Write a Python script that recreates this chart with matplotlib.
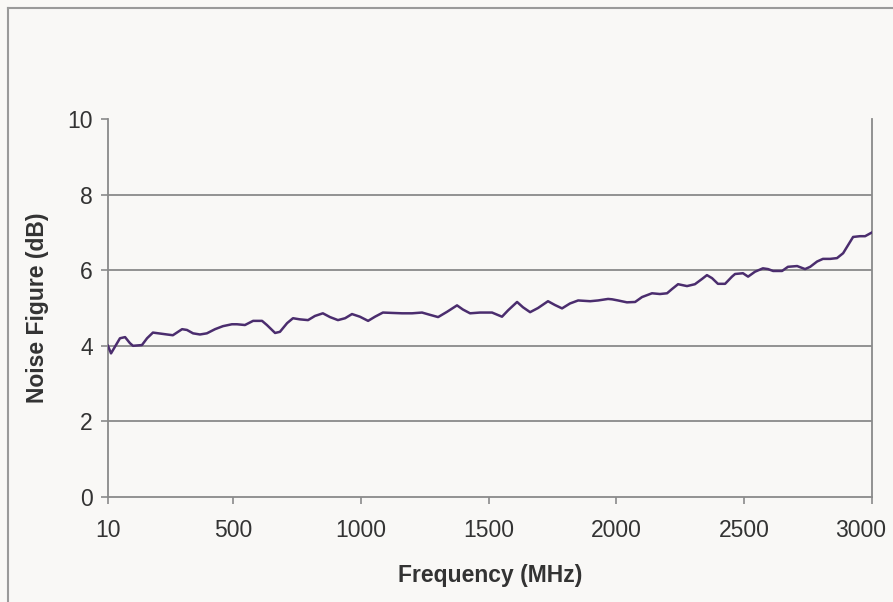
import matplotlib.pyplot as plt
from matplotlib.lines import Line2D
from matplotlib.transforms import ScaledTranslation

plt.rcParams['font.family'] = ['Liberation Sans', 'DejaVu Sans']

# Frequency (MHz) and noise figure (dB)
freq = [10, 22, 57, 77, 96, 108, 143, 163, 186, 241, 264, 300, 319, 343, 370,
        397, 429, 460, 495, 515, 546, 578, 613, 632, 664, 683, 711, 734, 761,
        793, 820, 851, 879, 910, 938, 965, 996, 1028, 1055, 1086, 1122, 1161,
        1200, 1239, 1270, 1302, 1337, 1376, 1399, 1427, 1466, 1513, 1552, 1576,
        1611, 1634, 1662, 1693, 1732, 1759, 1787, 1818, 1850, 1897, 1928, 1967,
        1983, 2006, 2041, 2073, 2100, 2139, 2170, 2198, 2217, 2241, 2276, 2307,
        2335, 2354, 2374, 2397, 2425, 2452, 2464, 2495, 2515, 2542, 2573, 2593,
        2613, 2648, 2671, 2707, 2738, 2758, 2785, 2808, 2836, 2863, 2887, 2906,
        2926, 2953, 2973, 3000]
noise_fig = [4.0, 3.8, 4.2, 4.23, 4.07, 4.0, 4.02, 4.2, 4.35, 4.3, 4.28, 4.44,
             4.42, 4.33, 4.3, 4.33, 4.44, 4.52, 4.57, 4.57, 4.55, 4.66, 4.66,
             4.55, 4.34, 4.37, 4.6, 4.73, 4.7, 4.68, 4.79, 4.86, 4.76, 4.68,
             4.73, 4.84, 4.77, 4.66, 4.77, 4.88, 4.87, 4.86, 4.86, 4.88, 4.82,
             4.76, 4.9, 5.07, 4.96, 4.86, 4.88, 4.88, 4.77, 4.94, 5.16, 5.02,
             4.89, 5.0, 5.18, 5.08, 4.99, 5.12, 5.2, 5.18, 5.2, 5.24, 5.23, 5.2,
             5.15, 5.16, 5.29, 5.39, 5.37, 5.39, 5.5, 5.63, 5.58, 5.63, 5.77,
             5.87, 5.79, 5.64, 5.64, 5.83, 5.9, 5.92, 5.83, 5.96, 6.05, 6.03,
             5.98, 5.98, 6.09, 6.11, 6.03, 6.09, 6.23, 6.3, 6.3, 6.32, 6.45,
             6.66, 6.88, 6.9, 6.9, 7.0]

x_ticks = [10, 500, 1000, 1500, 2000, 2500, 3000]
y_ticks = [0, 2, 4, 6, 8, 10]

bg = '#f9f8f6'
grid_col = '#8a8a8a'
text_col = '#333333'

fig = plt.figure(figsize=(8.93, 6.02), dpi=100, facecolor=bg)
ax = fig.add_axes([0.1209, 0.1744, 0.8556, 0.6279], facecolor=bg)

# horizontal gridlines
for v in y_ticks[1:-1]:
    ax.axhline(v, color=grid_col, linewidth=1.3, zorder=1)

ax.plot(freq, noise_fig, color='#4b2d6e', linewidth=1.8, zorder=3)

ax.set_xlim(10, 3000)
ax.set_ylim(0, 10)
ax.set_xticks(x_ticks)
ax.set_yticks(y_ticks)
ax.tick_params(axis='both', colors=grid_col, labelcolor=text_col,
               labelsize=16.5, length=5, width=1.2)
ax.tick_params(axis='x', pad=11)
ax.tick_params(axis='y', pad=6)

# last x label nudged left so it stays inside the picture
last = ax.get_xticklabels()[-1]
last.set_transform(last.get_transform() +
                   ScaledTranslation(-8 / 72, 0, fig.dpi_scale_trans))

for side in ['left', 'bottom', 'right']:
    ax.spines[side].set_color(grid_col)
    ax.spines[side].set_linewidth(1.3)
ax.spines['top'].set_visible(False)

ax.set_xlabel('Frequency (MHz)', fontsize=16.5, fontweight='bold',
              color=text_col, labelpad=16)
ax.set_ylabel('Noise Figure (dB)', fontsize=16.5, fontweight='bold',
              color=text_col, labelpad=13)

# chart frame (left and top edges visible)
fig.add_artist(Line2D([0.0095, 0.0095], [0, 0.987], transform=fig.transFigure,
                      color='#9a9a9a', linewidth=1.5))
fig.add_artist(Line2D([0.0095, 1.0], [0.987, 0.987], transform=fig.transFigure,
                      color='#9a9a9a', linewidth=1.5))

fig.savefig('out.png', dpi=100, facecolor=bg)
